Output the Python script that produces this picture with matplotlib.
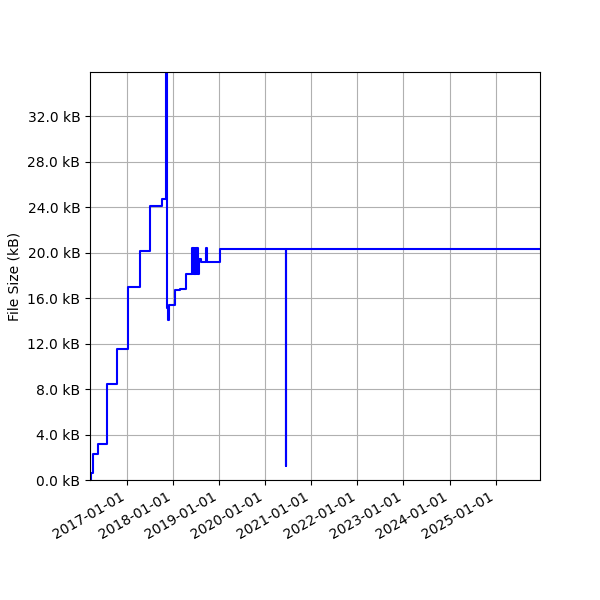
import matplotlib
matplotlib.use("Agg")
import matplotlib.pyplot as plt
import matplotlib.dates as mdates
from matplotlib.ticker import MultipleLocator, FuncFormatter
import datetime as dt

dates = [
    "2016-03-18", "2016-03-29", "2016-04-12", "2016-05-21", "2016-07-27",
    "2016-10-14", "2017-01-15", "2017-04-16", "2017-07-09", "2017-10-09",
    "2017-11-07", "2017-11-17", "2017-11-28", "2017-12-01", "2018-01-22",
    "2018-02-25", "2018-04-14", "2018-06-05", "2018-06-09", "2018-06-14",
    "2018-06-19", "2018-06-24", "2018-06-29", "2018-07-04", "2018-07-09",
    "2018-07-14", "2018-07-20", "2018-07-27", "2018-08-15", "2018-09-24",
    "2018-09-29", "2019-01-07", "2020-06-16", "2020-06-18", "2025-12-16",
]
sizes_kb = [
    0.0, 0.64, 2.26, 3.19, 8.41,
    11.55, 16.94, 20.16, 24.11, 24.7,
    35.87, 15.09, 14.1, 15.4, 16.7,
    16.8, 18.1, 20.37, 18.1, 20.37,
    18.1, 20.37, 18.1, 20.37, 18.1,
    20.37, 18.1, 19.4, 19.17, 20.37,
    19.17, 20.33, 1.26, 20.33, 20.33,
]

x = [dt.datetime.strptime(d, "%Y-%m-%d") for d in dates]

fig = plt.figure(figsize=(6, 6), dpi=100)
ax = fig.add_axes([0.15, 0.2, 0.75, 0.68])
ax.plot(x, sizes_kb, color="blue", drawstyle="steps-post", linewidth=1.5)
ax.set_xlim(x[0], x[-1])
ax.set_ylim(0, max(sizes_kb))
ax.yaxis.set_major_locator(MultipleLocator(4))
ax.yaxis.set_major_formatter(FuncFormatter(lambda v, p: f"{v:.1f} kB"))
ax.xaxis.set_major_locator(mdates.YearLocator())
ax.xaxis.set_major_formatter(mdates.DateFormatter("%Y-%m-%d"))
for lbl in ax.get_xticklabels():
    lbl.set_rotation(30)
    lbl.set_ha("right")
ax.set_ylabel("File Size (kB)")
ax.grid(True, color="#b0b0b0")
fig.savefig("out.png", dpi=100)
